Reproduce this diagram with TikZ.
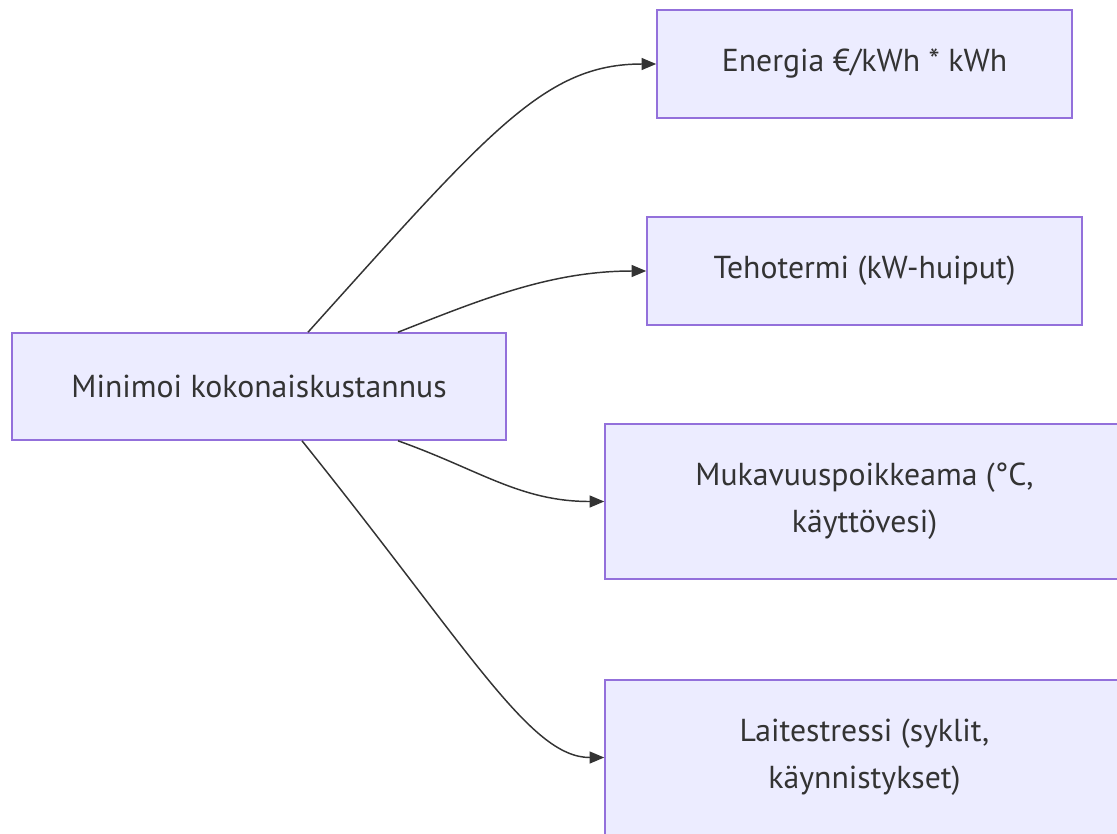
\documentclass[tikz,border=0pt]{standalone}
\usepackage{fontspec}
\setmainfont{PT Sans}
\usetikzlibrary{arrows.meta,calc}
\definecolor{boxfill}{HTML}{ECECFF}
\definecolor{boxline}{HTML}{9370DB}
\definecolor{ink}{HTML}{333333}
\begin{document}
\begin{tikzpicture}[x=0.75pt,y=-0.75pt,
  flowbox/.style={draw=boxline,fill=boxfill,line width=1.2pt,inner sep=0pt,
    text=ink,align=center,font=\fontsize{23.8}{35}\selectfont},
  link/.style={draw=ink,line width=1.1pt,-{Triangle[length=11pt,width=9pt]}}]
\useasboundingbox (0,0) rectangle (1117,833);
\clip (0,0) rectangle (1117,833);
\fill[white] (0,0) rectangle (1117,833);
\node[flowbox,minimum width=494*0.75pt,minimum height=107*0.75pt] (main) at (259,386.5) {Minimoi kokonaiskustannus};
\node[flowbox,minimum width=415*0.75pt,minimum height=108*0.75pt] (energia) at (864.5,64) {Energia €/kWh * kWh};
\node[flowbox,minimum width=435*0.75pt,minimum height=108*0.75pt] (teho) at (864.5,271) {Tehotermi (kW-huiput)};
\node[flowbox,minimum width=519*0.75pt,minimum height=155*0.75pt] (muka) at (864.5,501.5) {Mukavuuspoikkeama (°C,\\käyttövesi)};
\node[flowbox,minimum width=519*0.75pt,minimum height=155*0.75pt] (lait) at (864.5,757.5) {Laitestressi (syklit,\\käynnistykset)};
\draw[link] ($(main.north)+(49,0)$) .. controls (490,130) and (545,64) .. (energia.west);
\draw[link] ($(main.north)+(139,0)$) .. controls (480,300) and (550,271) .. (teho.west);
\draw[link] ($(main.south)+(139,0)$) .. controls (480,470) and (520,501.5) .. (muka.west);
\draw[link] ($(main.south)+(43,0)$) .. controls (470,650) and (530,757.5) .. (lait.west);
\end{tikzpicture}
\end{document}
